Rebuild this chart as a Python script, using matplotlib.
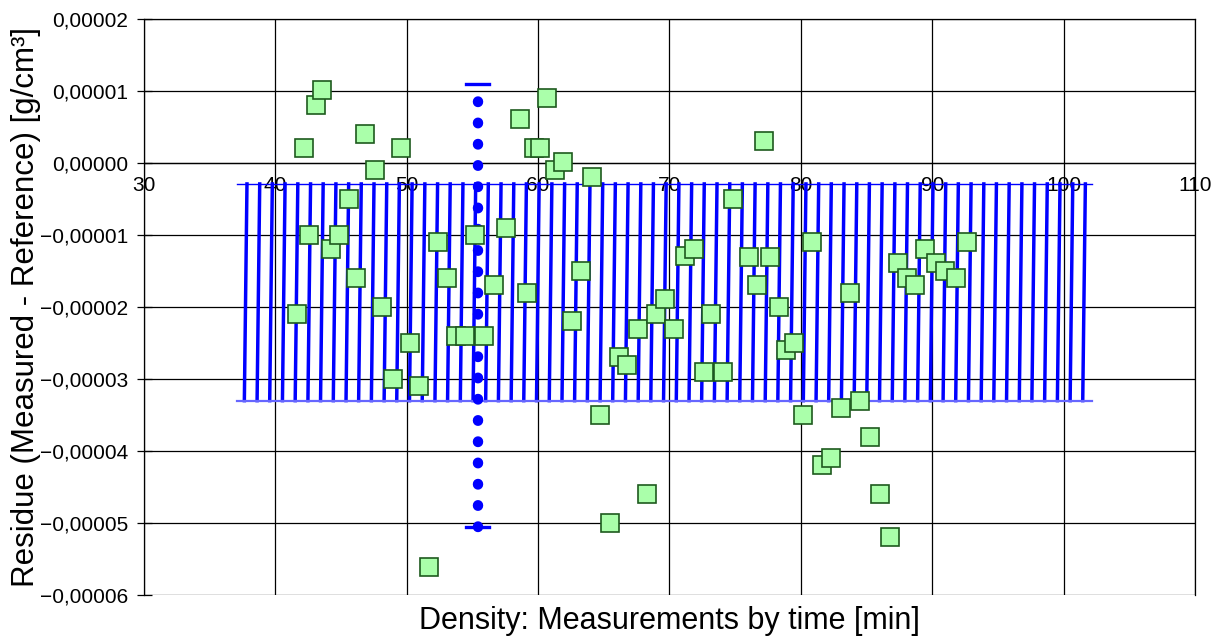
import matplotlib
matplotlib.use("Agg")
import matplotlib.pyplot as plt
from matplotlib.ticker import FuncFormatter, MultipleLocator

plt.rcParams['font.family'] = ['Liberation Sans', 'DejaVu Sans']

# measured residues (in units of 1e-5 g/cm3) against time [min]
meas_time = [41.65, 42.16, 42.56, 43.08, 43.58, 44.27, 44.85, 45.59, 46.17, 46.86,
             47.57, 48.15, 48.96, 49.57, 50.26, 50.94, 51.68, 52.37, 53.05, 53.74,
             54.45, 55.16, 55.90, 56.68, 57.57, 58.66, 59.17, 59.70, 60.16, 60.67,
             61.28, 61.89, 62.56, 63.26, 64.09, 64.68, 65.46, 66.18, 66.79, 67.60,
             68.26, 68.97, 69.68, 70.36, 71.18, 71.86, 72.60, 73.18, 74.06, 74.86,
             76.08, 76.65, 77.20, 77.68, 78.36, 78.90, 79.45, 80.16, 80.88, 81.58,
             82.30, 83.06, 83.77, 84.48, 85.29, 86.00, 86.79, 87.40, 88.08, 88.69,
             89.48, 90.30, 91.00, 91.82, 92.68]
residue_e5 = [-2.10, 0.21, -1.00, 0.81, 1.01, -1.19, -1.00, -0.50, -1.59, 0.41,
              -0.10, -2.00, -3.00, 0.21, -2.50, -3.10, -5.61, -1.09, -1.59, -2.40,
              -2.40, -1.00, -2.40, -1.69, -0.90, 0.61, -1.80, 0.21, 0.21, 0.91,
              -0.10, 0.01, -2.19, -1.50, -0.19, -3.50, -5.00, -2.69, -2.80, -2.30,
              -4.60, -2.09, -1.89, -2.30, -1.29, -1.19, -2.90, -2.09, -2.90, -0.50,
              -1.30, -1.69, 0.31, -1.30, -2.00, -2.60, -2.50, -3.50, -1.09, -4.20,
              -4.10, -3.40, -1.80, -3.30, -3.80, -4.60, -5.20, -1.39, -1.59, -1.69,
              -1.19, -1.39, -1.50, -1.59, -1.09]
residue = [r * 1e-5 for r in residue_e5]

# band (blue hatched range)
band_top = -0.0000029
band_bottom = -0.0000330
band_start = 37.1
band_end = 102.2
band_lines = [37.64, 38.61, 39.57, 40.54, 41.51, 42.48, 43.44, 44.41, 45.38, 46.34,
              47.31, 48.28, 49.24, 50.21, 51.18, 52.15, 53.11, 54.08, 55.05, 56.01,
              56.98, 57.95, 58.91, 59.88, 60.85, 61.82, 62.78, 63.75, 64.72, 65.68,
              66.65, 67.62, 68.58, 69.55, 70.52, 71.49, 72.45, 73.42, 74.39, 75.35,
              76.32, 77.29, 78.25, 79.22, 80.19, 81.16, 82.12, 83.09, 84.06, 85.02,
              85.99, 86.96, 87.92, 88.89, 89.86, 90.83, 91.79, 92.76, 93.73, 94.69,
              95.66, 96.63, 97.59, 98.56, 99.53, 100.50, 101.46]

# vertical dotted range
range_x = 55.42
range_low = -0.0000505
range_high = 0.0000110

fig = plt.figure(figsize=(12.13, 6.37), dpi=100)
ax = fig.add_axes([0.1187, 0.066, 0.8664, 0.904])

for x in band_lines:
    ax.plot([x, x + 0.2], [band_bottom, band_top], color='#0000ff', lw=2.5, zorder=3)
ax.plot([band_start, band_end], [band_top, band_top], color='#0000ff', lw=1.0, zorder=3)
ax.plot([band_start, band_end], [band_bottom, band_bottom], color='#6666ff', lw=1.6, zorder=3)

ax.plot([range_x, range_x], [range_low, range_high], color='#0000ff', lw=7.5,
        linestyle=(0, (0.05, 1.99)), dash_capstyle='round', zorder=4)
ax.plot([range_x - 0.88, range_x + 0.88], [range_high, range_high], color='#0000ff', lw=2.4, zorder=4)
ax.plot([range_x - 0.88, range_x + 0.88], [range_low, range_low], color='#0000ff', lw=2.4, zorder=4)

ax.plot(meas_time, residue, linestyle='none', marker='s', ms=12.3, mfc='#aaffaa',
        mec='#1e5a1e', mew=1.2, zorder=5)


def ylab(v, p):
    s = f"{abs(v):.5f}".replace('.', ',')
    if v < -1e-12:
        s = '\u2212' + s
    return s


ax.set_xlim(30, 110)
ax.set_ylim(-0.00006, 0.00002)
ax.xaxis.set_major_locator(MultipleLocator(10))
ax.yaxis.set_major_locator(MultipleLocator(0.00001))
ax.yaxis.set_major_formatter(FuncFormatter(ylab))
ax.grid(True, color='black', lw=0.9, zorder=0)
ax.set_axisbelow(True)

ax.spines['bottom'].set_position(('data', 0))
for s in ax.spines.values():
    s.set_linewidth(0.9)
ax.tick_params(axis='y', direction='inout', length=10.8, width=0.9, pad=6, labelsize=15)
ax.tick_params(axis='x', length=0, pad=9, labelsize=15)

ax.set_xlabel('Density: Measurements by time [min]', fontsize=22)
ax.set_ylabel('Residue (Measured - Reference) [g/cm³]', fontsize=22.5)
ax.xaxis.set_label_coords(0.5, -0.02)
ax.yaxis.set_label_coords(-0.098, 0.5)

fig.savefig('out.png', dpi=100)
